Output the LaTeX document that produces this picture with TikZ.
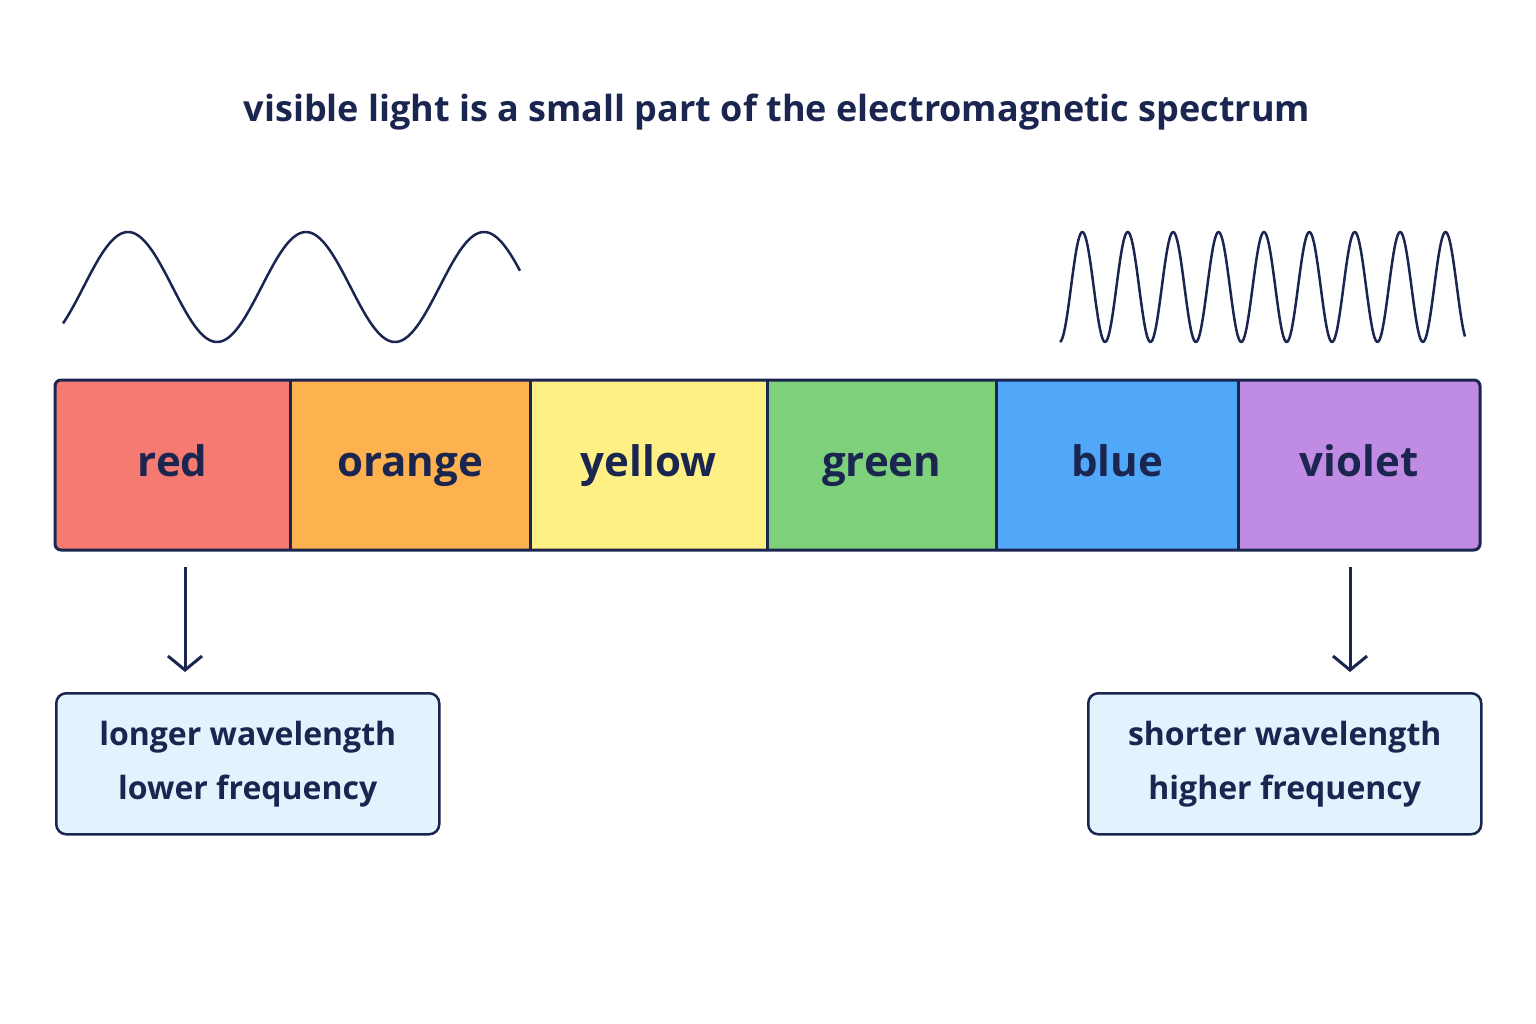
\documentclass[tikz,border=0pt]{standalone}
\usepackage{fontspec}
\setmainfont{Open Sans}
\usetikzlibrary{arrows.meta}
\definecolor{ink}{HTML}{1A2550}
\definecolor{cred}{HTML}{F47A72}
\definecolor{corange}{HTML}{FDB14F}
\definecolor{cyellow}{HTML}{FEF084}
\definecolor{cgreen}{HTML}{7FD07A}
\definecolor{cblue}{HTML}{52A8F8}
\definecolor{cviolet}{HTML}{C08BE3}
\definecolor{boxfill}{HTML}{E3F3FD}
\begin{document}
\begin{tikzpicture}[x=1pt,y=-1pt,
  band/.style={minimum height=170pt,inner sep=0pt,font=\fontsize{42}{46}\selectfont\bfseries,text=ink,anchor=north west,text height=30pt,text depth=8pt},
  info/.style={draw=ink,line width=2.5pt,fill=boxfill,rounded corners=10pt,minimum height=141pt,align=center,font=\fontsize{32}{54}\selectfont\bfseries,text=ink,anchor=north west,inner sep=0pt},
  wave/.style={ink,line width=2.5pt,line join=round},
  div/.style={ink,line width=2.5pt},
  arr/.style={ink,line width=3pt,-{Straight Barb[length=14pt,width=34pt]}}]
\useasboundingbox (0,0) rectangle (1536,1024);
\node[text=ink,font=\fontsize{36}{40}\selectfont\bfseries] (title) at (777,112) {visible light is a small part of the electromagnetic spectrum};
\begin{scope}
\clip[rounded corners=6pt] (55,380) rectangle (1480,550);
\node[band,fill=cred,minimum width=235pt] (red) at (55,380) {red};
\node[band,fill=corange,minimum width=240pt] (orange) at (290,380) {orange};
\node[band,fill=cyellow,minimum width=237pt] (yellow) at (530,380) {yellow};
\node[band,fill=cgreen,minimum width=229pt] (green) at (767,380) {green};
\node[band,fill=cblue,minimum width=242pt] (blue) at (996,380) {blue};
\node[band,fill=cviolet,minimum width=242pt] (violet) at (1238,380) {violet};
\end{scope}
\draw[div] (red.north east) -- (red.south east);
\draw[div] (orange.north east) -- (orange.south east);
\draw[div] (yellow.north east) -- (yellow.south east);
\draw[div] (green.north east) -- (green.south east);
\draw[div] (blue.north east) -- (blue.south east);
\draw[ink,line width=3pt,rounded corners=6pt] (55,380) rectangle (1480,550);
\draw[wave] plot[domain=63:520,samples=200,smooth] (\x,{287-55*sin((\x-83.5)/178*360)});
\draw[wave] plot[domain=1060:1465,samples=400,smooth] (\x,{287-55*sin((\x-1071)/45.4*360)});
\node[info,minimum width=383pt] (lbox) at (55,692) {longer wavelength\\lower frequency};
\node[info,minimum width=393pt] (rbox) at (1087,692) {shorter wavelength\\higher frequency};
\coordinate (la) at (185,567);
\coordinate (lb) at (185,672);
\coordinate (ra) at (1350,567);
\coordinate (rb) at (1350,672);
\draw[arr] (la) -- (lb);
\draw[arr] (ra) -- (rb);
\end{tikzpicture}
\end{document}
